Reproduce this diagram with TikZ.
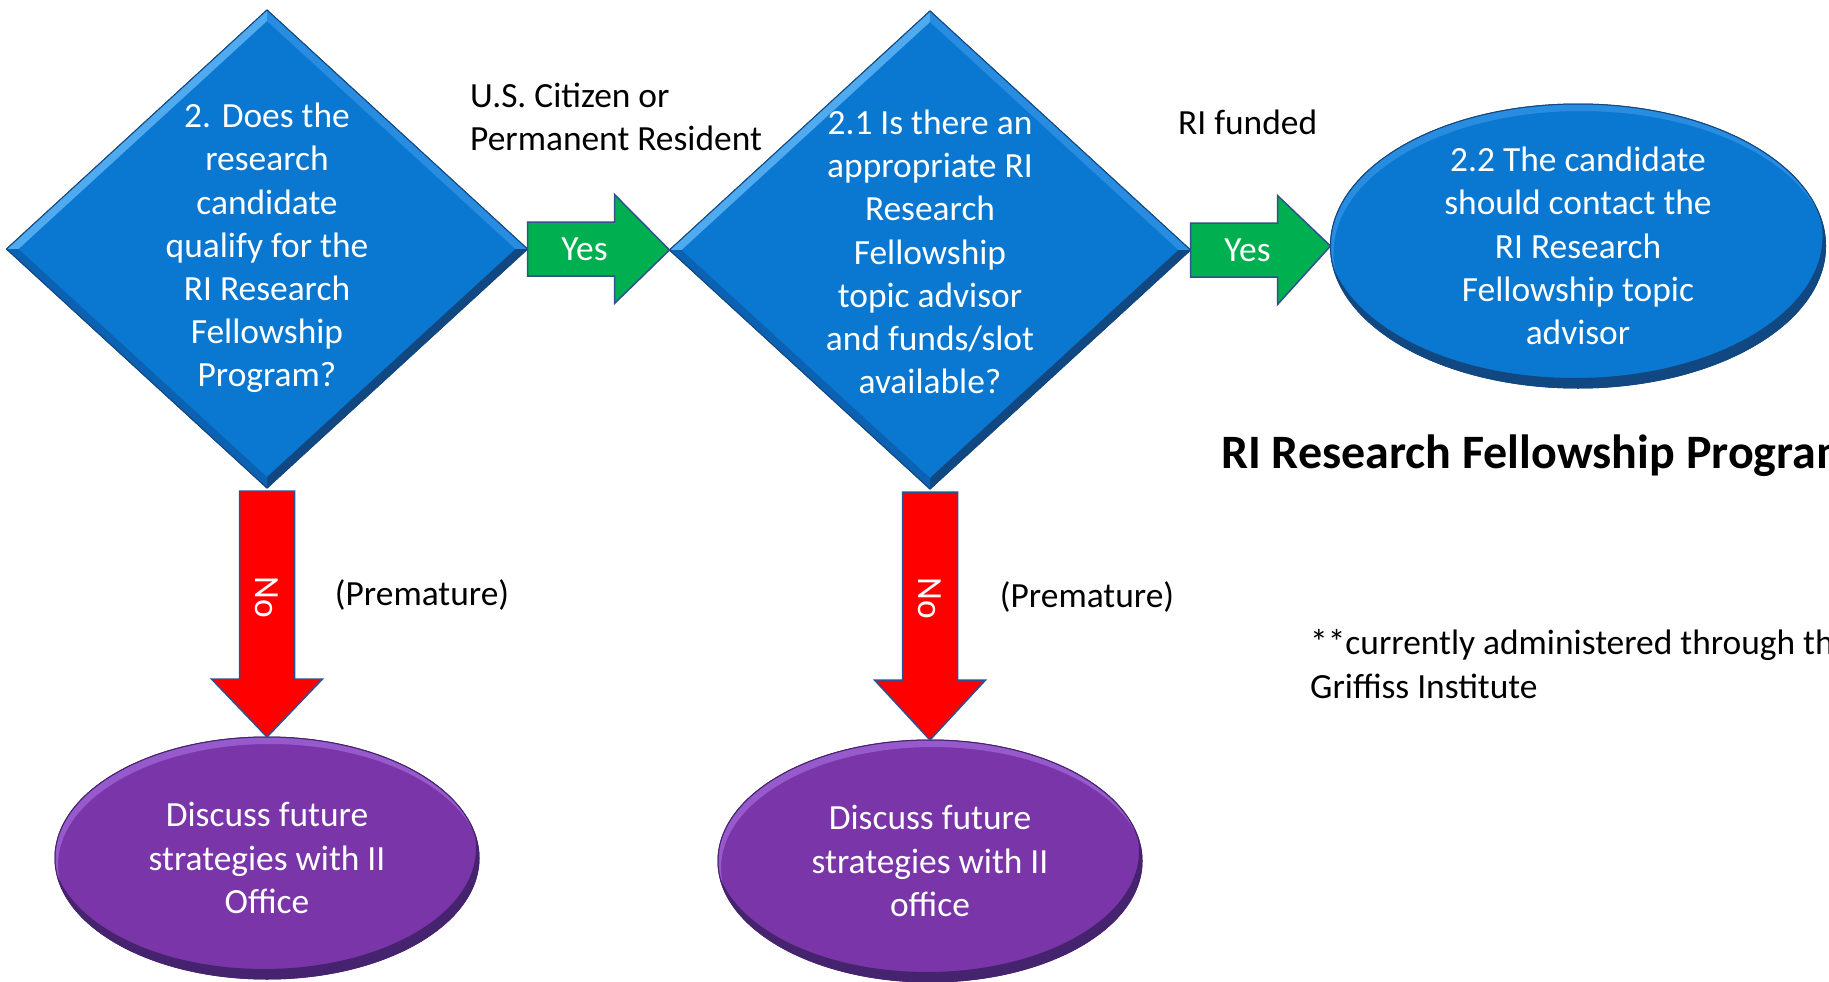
\documentclass[tikz,border=0pt]{standalone}
\usepackage{fontspec}
\setmainfont{Carlito}
\usetikzlibrary{shapes.geometric,calc}
\definecolor{dblue}{RGB}{10,120,208}
\definecolor{blight}{RGB}{80,170,240}
\definecolor{bmidl}{RGB}{40,140,225}
\definecolor{bmidd}{RGB}{12,98,178}
\definecolor{bdark}{RGB}{18,72,130}
\definecolor{outl}{RGB}{47,82,143}
\definecolor{gfill}{RGB}{0,176,80}
\definecolor{rfill}{RGB}{255,0,0}
\definecolor{pfill}{RGB}{122,54,168}
\definecolor{plight}{RGB}{150,90,205}
\definecolor{pdark}{RGB}{70,35,110}
\tikzset{
  decision/.style={diamond, fill=dblue, draw=bdark, line width=1pt, minimum width=521pt, minimum height=478pt, inner sep=0pt, outer sep=0pt},
  blueend/.style={ellipse, fill=dblue, draw=bdark, line width=1pt, minimum width=495pt, minimum height=284pt, inner sep=0pt, outer sep=0pt},
  purpleend/.style={ellipse, fill=pfill, draw=pdark, line width=1pt, minimum width=424pt, minimum height=242pt, inner sep=0pt, outer sep=0pt},
  wtxt/.style={text=white, align=center, inner sep=0pt, font=\fontsize{35.4}{43.2}\selectfont},
  ktxt/.style={text=black, inner sep=0pt, font=\fontsize{35.4}{43.2}\selectfont},
  yesarrow/.style={fill=gfill, draw=outl, line width=1.5pt, line join=miter},
  noarrow/.style={fill=rfill, draw=outl, line width=1.5pt, line join=miter},
}
\newcommand\bevdiamond[1]{%
  \fill[blight] (#1.west) -- (#1.north) -- ($(#1.north)+(0,11)$) -- ($(#1.west)+(12,0)$) -- cycle;
  \fill[bmidl] (#1.north) -- (#1.east) -- ($(#1.east)+(-12,0)$) -- ($(#1.north)+(0,11)$) -- cycle;
  \fill[bdark] (#1.east) -- (#1.south) -- ($(#1.south)+(0,-11)$) -- ($(#1.east)+(-12,0)$) -- cycle;
  \fill[bmidd] (#1.south) -- (#1.west) -- ($(#1.west)+(12,0)$) -- ($(#1.south)+(0,-11)$) -- cycle;
  \draw[bdark, line width=1pt] (#1.west) -- (#1.north) -- (#1.east) -- (#1.south) -- cycle;
}
\newcommand\bevellipse[5]{%
  \begin{scope}
    \clip (#1.center) ellipse [x radius=#2, y radius=#3];
    \fill[#4, even odd rule] (#1.center) ellipse [x radius=#2, y radius=#3] ($(#1.center)+(3,7)$) ellipse [x radius=#2, y radius=#3];
    \fill[#5, even odd rule] (#1.center) ellipse [x radius=#2, y radius=#3] ($(#1.center)+(-3,-10)$) ellipse [x radius=#2, y radius=#3];
  \end{scope}
  \draw[#5, line width=1pt] (#1.center) ellipse [x radius=#2, y radius=#3];
}
\begin{document}
\begin{tikzpicture}[x=1pt,y=-1pt]
\useasboundingbox (0,0) rectangle (1829,982);
\clip (0,0) rectangle (1829,982);
\fill[white] (0,0) rectangle (1829,982);

% shapes
\node[decision] (d1) at (267,249) {};
\node[decision] (d2) at (930,250) {};
\node[blueend] (e22) at (1578,246) {};
\node[purpleend] (p1) at (267,858) {};
\node[purpleend] (p2) at (930,861) {};

\bevdiamond{d1}
\bevdiamond{d2}
\bevellipse{e22}{247.5}{142}{bmidl}{bdark}
\bevellipse{p1}{212}{121}{plight}{pdark}
\bevellipse{p2}{212}{121}{plight}{pdark}

% texts in shapes
\node[wtxt] (t1) at ($(d1.center)+(0,-1)$) {2. Does the\\research\\candidate\\qualify for the\\RI Research\\Fellowship\\Program?};
\node[wtxt] (t2) at ($(d2.center)+(0,2)$) {2.1 Is there an\\appropriate RI\\Research\\Fellowship\\topic advisor\\and funds/slot\\available?};
\node[wtxt] (t22) at (e22.center) {2.2 The candidate\\should contact the\\RI Research\\Fellowship topic\\advisor};
\node[wtxt] (tp1) at (p1.center) {Discuss future\\strategies with II\\Office};
\node[wtxt] (tp2) at (p2.center) {Discuss future\\strategies with II\\office};

% green Yes arrows
\draw[yesarrow] ($(d1.east)+(0,-27)$) -- ++(87,0) -- ++(0,-27.5) -- (d2.west) -- ($(d1.east)+(87,54.5)$) -- ++(0,-27.5) -- ($(d1.east)+(0,27)$) -- cycle;
\node[wtxt] (y1) at ($(d1.east)+(57,0)$) {Yes};
\draw[yesarrow] ($(d2.east)+(0,-27)$) -- ++(87,0) -- ++(0,-27.5) -- (e22.west) -- ($(d2.east)+(87,54.5)$) -- ++(0,-27.5) -- ($(d2.east)+(0,27)$) -- cycle;
\node[wtxt] (y2) at ($(d2.east)+(57,0)$) {Yes};

% red No arrows
\draw[noarrow] ($(d1.south)+(-27.5,3)$) -- ($(d1.south)+(27.5,3)$) -- ($(d1.south)+(27.5,191)$) -- ++(28,0) -- (p1.north) -- ($(d1.south)+(-55.5,191)$) -- ++(28,0) -- cycle;
\node[wtxt, rotate=-90] (n1) at ($(d1.south)+(0,109)$) {No};
\draw[noarrow] ($(d2.south)+(-27.5,3)$) -- ($(d2.south)+(27.5,3)$) -- ($(d2.south)+(27.5,191)$) -- ++(28,0) -- (p2.north) -- ($(d2.south)+(-55.5,191)$) -- ++(28,0) -- cycle;
\node[wtxt, rotate=-90] (n2) at ($(d2.south)+(0,109)$) {No};

% labels
\node[ktxt, align=left, anchor=west] (lab1) at (470,117) {U.S. Citizen or\\Permanent Resident};
\node[ktxt, anchor=west] (lab2) at (1178,122) {RI funded};
\node[ktxt] (pm1) at (422,595) {(Premature)};
\node[ktxt] (pm2) at (1087,597) {(Premature)};
\node[text=black, inner sep=0pt, anchor=west, font=\fontsize{48}{57}\selectfont\bfseries] (title) at (1221,456) {RI Research Fellowship Program};
\node[ktxt, align=left, anchor=west] (foot) at (1310,664) {**currently administered through the\\Griffiss Institute};
\end{tikzpicture}
\end{document}
